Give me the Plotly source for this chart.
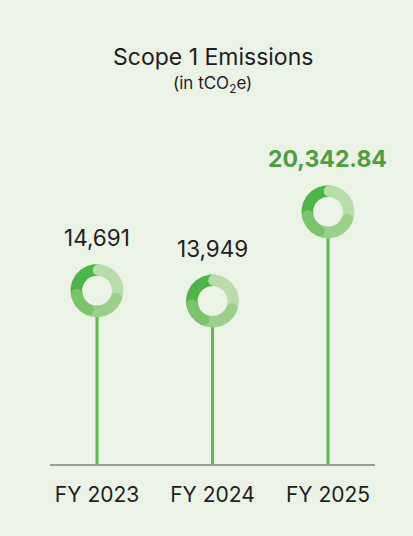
import numpy as np
import plotly.graph_objects as go

# ---- data ----
categories = ["FY 2023", "FY 2024", "FY 2025"]
emissions = [14691, 13949, 20342.84]
value_labels = ["14,691", "13,949", "20,342.84"]

# ---- layout / style ----
W, H = 413, 536
ML, MR, MT, MB = 50, 38, 140, 72
X_RANGE = [-0.407, 2.407]
Y_RANGE = [2270, 25490]

BG = "#EBF3E7"
STEM = "#5DBB4E"
TEXT = "#1E1E1E"
GREEN_TEXT = "#4C9F3E"
FONT = "Inter"

px_x = (W - ML - MR) / (X_RANGE[1] - X_RANGE[0])
px_y = (H - MT - MB) / (Y_RANGE[1] - Y_RANGE[0])

R_OUT, R_IN = 26.5, 15.0
R_MID = (R_OUT + R_IN) / 2
HALF = (R_OUT - R_IN) / 2
# decorative ring segments: (start deg, end deg clockwise from 12 o'clock, colour)
ring_segments = [
    (259, 364, "#4DB447"),
    (4, 112, "#B8DCAC"),
    (112, 205, "#9BD08B"),
    (205, 259, "#7CC46B"),
]


def segment_path(a0, a1, n=40):
    a0r, a1r = np.radians(a0), np.radians(a1)
    pts = []
    for t in np.linspace(a0r, a1r, n):
        pts.append((R_OUT * np.sin(t), R_OUT * np.cos(t)))
    u = np.array([np.sin(a1r), np.cos(a1r)])
    tv = np.array([np.cos(a1r), -np.sin(a1r)])
    c = R_MID * u
    for phi in np.linspace(0, np.pi, 20):
        p = c + HALF * (np.cos(phi) * u + np.sin(phi) * tv)
        pts.append(tuple(p))
    for t in np.linspace(a1r, a0r, n):
        pts.append((R_IN * np.sin(t), R_IN * np.cos(t)))
    u = np.array([np.sin(a0r), np.cos(a0r)])
    tv = np.array([np.cos(a0r), -np.sin(a0r)])
    c = R_MID * u
    for phi in np.linspace(np.pi, 0, 20):
        p = c + HALF * (np.cos(phi) * u - np.sin(phi) * tv)
        pts.append(tuple(p))
    pts.append(pts[0])
    return np.array(pts)


fig = go.Figure()

xs = list(range(len(categories)))

# stems
for i, v in zip(xs, emissions):
    fig.add_trace(go.Scatter(
        x=[i, i], y=[Y_RANGE[0], v], mode="lines",
        line=dict(color=STEM, width=3), hoverinfo="skip", showlegend=False))

# hole covers
fig.add_trace(go.Scatter(
    x=xs, y=emissions, mode="markers",
    marker=dict(size=2 * R_IN, color=BG, line=dict(width=0)),
    hoverinfo="skip", showlegend=False))

# rings
for i, v in zip(xs, emissions):
    for a0, a1, col in ring_segments:
        p = segment_path(a0, a1)
        fig.add_trace(go.Scatter(
            x=i + p[:, 0] / px_x, y=v + p[:, 1] / px_y,
            mode="lines", fill="toself", fillcolor=col,
            line=dict(width=0, color=col), hoverinfo="skip", showlegend=False))

# value labels
for i, (v, lab) in enumerate(zip(emissions, value_labels)):
    last = i == len(emissions) - 1
    fig.add_annotation(
        x=i, y=v, xref="x", yref="y", text=lab, showarrow=False,
        yshift=53, yanchor="middle",
        font=dict(family=FONT, size=23 if last else 22.5,
                  color=GREEN_TEXT if last else TEXT,
                  weight=700 if last else 400))

# title + subtitle
fig.add_annotation(x=0.5, y=(H - MB - 57) / (H - MT - MB), xref="paper", yref="paper",
                   text="Scope 1 Emissions", showarrow=False, yanchor="middle",
                   font=dict(family=FONT, size=23, color=TEXT))
fig.add_annotation(x=0.5, y=(H - MB - 85) / (H - MT - MB), xref="paper", yref="paper",
                   text="(in tCO<sub>2</sub>e)", showarrow=False, yanchor="middle",
                   font=dict(family=FONT, size=17, color=TEXT))

fig.update_layout(
    width=W, height=H,
    margin=dict(l=ML, r=MR, t=MT, b=MB, pad=0),
    paper_bgcolor=BG, plot_bgcolor=BG,
    showlegend=False,
    xaxis=dict(range=X_RANGE, tickvals=xs, ticktext=categories,
               showgrid=False, zeroline=False, showline=True,
               linecolor="#9A9A9A", linewidth=1.5, ticks="",
               ticklabelstandoff=11,
               tickfont=dict(family=FONT, size=21, color=TEXT), fixedrange=True),
    yaxis=dict(range=Y_RANGE, visible=False, showgrid=False, zeroline=False,
               fixedrange=True),
)

fig.write_html("out.html", config={"displayModeBar": False},
               post_script="document.body.style.margin='0px';document.body.style.background='" + BG + "';")
